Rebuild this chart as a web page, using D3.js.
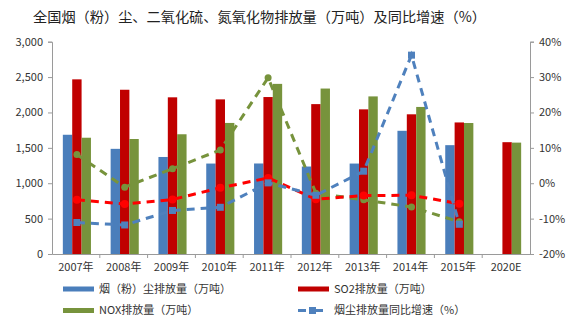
<!DOCTYPE html>
<html><head><meta charset="utf-8">
<script src="https://cdn.jsdelivr.net/npm/d3@7"></script>
<style>
body{margin:0;background:#fff;}
svg{display:block;}
text{font-family:"Noto Sans CJK SC","Liberation Sans",sans-serif;}
</style></head>
<body><svg id="c" width="584" height="331"></svg>
<script>
const categories = ["2007年","2008年","2009年","2010年","2011年","2012年","2013年","2014年","2015年","2020E"];
const dust = [1685,1486,1371,1278,1279,1236,1278,1741,1538,null];
const so2  = [2468,2321,2214,2185,2218,2118,2044,1974,1859,1580];
const nox  = [1643,1625,1692,1852,2404,2338,2227,2078,1851,1574];
const dustGrowth = [-11.1,-11.8,-7.7,-6.8,0.1,-3.4,3.4,36.2,-11.6,null];
const so2Growth  = [-4.7,-5.9,-4.6,-1.3,1.5,-4.5,-3.5,-3.4,-5.8,null];
const noxGrowth  = [8.1,-1.1,4.1,9.4,29.8,-2.8,-4.7,-6.7,-10.9,null];
const leftTicks = [0,500,1000,1500,2000,2500,3000];
const leftTickLabels = ["0","500","1,000","1,500","2,000","2,500","3,000"];
const rightTicks = [-20,-10,0,10,20,30,40];
const rightTickLabels = ["-20%","-10%","0%","10%","20%","30%","40%"];
const title = "全国烟（粉）尘、二氧化硫、氮氧化物排放量（万吨）及同比增速（%）";
const legendLabels = ["烟（粉）尘排放量（万吨）","SO2排放量（万吨）","NOX排放量（万吨）","烟尘排放量同比增速（%）"];

const svg = d3.select("#c");
const L = 52, R = 530, T = 41.7, B = 254;
const x = d3.scaleBand().domain(categories).range([L, R]).paddingInner(0).paddingOuter(0);
const xs = d3.scaleBand().domain(["dust","so2","nox"]).range([0, x.bandwidth()]).paddingInner(0).paddingOuter(1.05);
const y = d3.scaleLinear().domain([0,3000]).range([B, T]);
const y2 = d3.scaleLinear().domain([-20,40]).range([B, T]);

const cBlue = "#4A7EBB", cRed = "#C00000", cGreen = "#77933C";
const lBlue = "#4F81BD", lRed = "#FF0000", lGreen = "#77933C";

svg.append("text").attr("x", 33).attr("y", 21.5).attr("font-size", 14.2).attr("fill", "#222").text(title);

// bars
const series = [["dust", dust, cBlue], ["so2", so2, cRed], ["nox", nox, cGreen]];
series.forEach(([key, vals, col]) => {
  svg.append("g").selectAll("rect").data(categories.map((c,i)=>({c, v: vals[i]})).filter(d=>d.v!=null))
    .join("rect")
    .attr("x", d => x(d.c) + xs(key) + 1)
    .attr("width", xs.bandwidth())
    .attr("y", d => y(d.v))
    .attr("height", d => B - y(d.v))
    .attr("fill", col);
});

// axes
const axisCol = "#9a9a9a";
const gl = svg.append("g").attr("transform", `translate(${L},0)`)
  .call(d3.axisLeft(y).tickValues(leftTicks).tickSize(4).tickFormat((d,i)=>leftTickLabels[i]));
const gr = svg.append("g").attr("transform", `translate(${R},0)`)
  .call(d3.axisRight(y2).tickValues(rightTicks).tickSize(4).tickFormat((d,i)=>rightTickLabels[i]));
const gb = svg.append("g").attr("transform", `translate(0,${B})`)
  .call(d3.axisBottom(x).tickSize(0).tickPadding(9));
[gl, gr, gb].forEach(g => {
  g.select(".domain").attr("stroke", axisCol);
  g.selectAll(".tick line").attr("stroke", axisCol);
  g.selectAll("text").attr("font-size", 11).attr("fill", "#333")
    .attr("font-family", '"Liberation Sans", "Noto Sans CJK SC", sans-serif');
});
gl.selectAll("text").attr("dx", -2);
gr.selectAll("text").attr("dx", 2);
gb.selectAll("text").attr("font-family", '"Noto Sans CJK SC", sans-serif').attr("font-size", 11);
// x ticks between categories
svg.append("g").selectAll("line").data(categories.slice(1)).join("line")
  .attr("x1", d => x(d)).attr("x2", d => x(d)).attr("y1", B).attr("y2", B + 4).attr("stroke", axisCol);

// lines
const lineGen = vals => d3.line().defined(d => d.v != null)
  .x(d => x(d.c) + x.bandwidth()/2 + 1).y(d => y2(d.v))(categories.map((c,i)=>({c, v: vals[i]})));
const lines = [[noxGrowth, lGreen, "circle"], [so2Growth, lRed, "circle"], [dustGrowth, lBlue, "square"]];
lines.forEach(([vals, col, shape]) => {
  svg.append("path").attr("d", lineGen(vals)).attr("fill", "none").attr("stroke", col)
    .attr("stroke-width", 3).attr("stroke-dasharray", "8,6");
  const pts = categories.map((c,i)=>({c, v: vals[i]})).filter(d=>d.v!=null);
  if (shape === "circle") {
    svg.append("g").selectAll("circle").data(pts).join("circle")
      .attr("cx", d => x(d.c) + x.bandwidth()/2 + 1).attr("cy", d => y2(d.v))
      .attr("r", col === lRed ? 4 : 3.5).attr("fill", col);
  } else {
    svg.append("g").selectAll("rect").data(pts).join("rect")
      .attr("x", d => x(d.c) + x.bandwidth()/2 + 1 - 3.5).attr("y", d => y2(d.v) - 3.5)
      .attr("width", 7).attr("height", 7).attr("fill", col);
  }
});

// legend
const lg = svg.append("g");
const legendItems = [
  {x: 63, y: 289, col: cBlue, label: legendLabels[0], type: "bar"},
  {x: 298, y: 289, col: cRed, label: legendLabels[1], type: "bar"},
  {x: 63, y: 310.5, col: cGreen, label: legendLabels[2], type: "bar"},
  {x: 298, y: 310.5, col: lBlue, label: legendLabels[3], type: "line"}
];
legendItems.forEach(it => {
  if (it.type === "bar") {
    lg.append("rect").attr("x", it.x).attr("y", it.y - 2.5).attr("width", 31).attr("height", 5).attr("fill", it.col);
    lg.append("text").attr("x", it.x + 36).attr("y", it.y).attr("dy", "0.36em").attr("font-size", 11).attr("fill", "#333").text(it.label);
  } else {
    lg.append("line").attr("x1", it.x).attr("x2", it.x + 8).attr("y1", it.y).attr("y2", it.y).attr("stroke", it.col).attr("stroke-width", 3);
    lg.append("line").attr("x1", it.x + 14).attr("x2", it.x + 25).attr("y1", it.y).attr("y2", it.y).attr("stroke", it.col).attr("stroke-width", 3);
    lg.append("rect").attr("x", it.x + 11).attr("y", it.y - 3.5).attr("width", 7).attr("height", 7).attr("fill", it.col);
    lg.append("text").attr("x", it.x + 36).attr("y", it.y).attr("dy", "0.36em").attr("font-size", 11).attr("fill", "#333").text(it.label);
  }
});
</script></body></html>
